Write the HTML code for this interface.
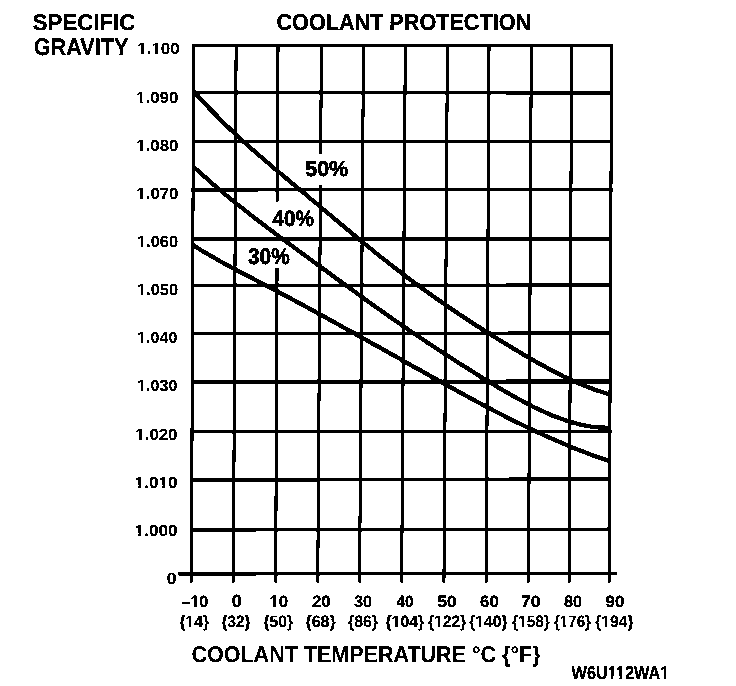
<!DOCTYPE html>
<html><head><meta charset="utf-8"><style>
html,body{margin:0;padding:0;background:#fff;}
svg{display:block;}
text{font-family:"Liberation Sans",sans-serif;font-weight:700;fill:#000;text-rendering:geometricPrecision;}
</style></head><body>
<svg width="736" height="686" viewBox="0 0 736 686">
<defs><filter id="bin" x="0" y="0" width="736" height="686" filterUnits="userSpaceOnUse" color-interpolation-filters="sRGB">
<feColorMatrix type="matrix" values="0.333 0.333 0.334 0 0  0.333 0.333 0.334 0 0  0.333 0.333 0.334 0 0  0 0 0 1 0"/>
<feComponentTransfer><feFuncR type="discrete" tableValues="0 1"/><feFuncG type="discrete" tableValues="0 1"/><feFuncB type="discrete" tableValues="0 1"/></feComponentTransfer>
</filter></defs>
<g filter="url(#bin)">
<rect width="736" height="686" fill="#fff"/>
<g stroke="#000" stroke-linecap="butt">
<line x1="193.71" y1="44.00" x2="191.36" y2="582.50" stroke-width="3.0"/>
<line x1="236.11" y1="44.00" x2="233.36" y2="582.50" stroke-width="3.0"/>
<line x1="278.01" y1="44.00" x2="277.32" y2="201.40" stroke-width="3.0"/>
<line x1="277.03" y1="267.90" x2="275.66" y2="582.50" stroke-width="3.0"/>
<line x1="321.41" y1="44.00" x2="320.66" y2="154.30" stroke-width="3.0"/>
<line x1="320.45" y1="185.00" x2="317.74" y2="582.50" stroke-width="3.0"/>
<line x1="363.51" y1="44.00" x2="359.54" y2="582.50" stroke-width="3.0"/>
<line x1="405.31" y1="44.00" x2="401.64" y2="582.50" stroke-width="3.0"/>
<line x1="447.41" y1="44.00" x2="443.95" y2="582.50" stroke-width="3.0"/>
<line x1="489.01" y1="44.00" x2="486.15" y2="582.50" stroke-width="3.0"/>
<line x1="531.31" y1="44.00" x2="528.45" y2="582.50" stroke-width="3.0"/>
<line x1="571.61" y1="44.00" x2="569.16" y2="582.50" stroke-width="3.0"/>
<line x1="611.61" y1="44.00" x2="609.16" y2="582.50" stroke-width="3.0"/>
<line x1="192.20" y1="45.5" x2="613.10" y2="45.4" stroke-width="2.9"/>
<line x1="192.00" y1="92.5" x2="612.89" y2="92.8" stroke-width="3.4"/>
<line x1="191.78" y1="141.5" x2="612.66" y2="141.4" stroke-width="2.9"/>
<line x1="191.57" y1="189.9" x2="612.45" y2="189.6" stroke-width="3.2"/>
<line x1="191.36" y1="238.7" x2="612.22" y2="238.7" stroke-width="3.6"/>
<line x1="191.16" y1="285.3" x2="612.01" y2="285.05" stroke-width="3.0"/>
<line x1="190.95" y1="333.5" x2="611.79" y2="332.9" stroke-width="3.0"/>
<line x1="190.74" y1="381.8" x2="611.57" y2="381.5" stroke-width="3.9"/>
<line x1="190.52" y1="431.6" x2="611.35" y2="431.5" stroke-width="3.2"/>
<line x1="190.31" y1="480.2" x2="611.13" y2="478.8" stroke-width="3.4"/>
<line x1="190.09" y1="529.9" x2="610.90" y2="529.2" stroke-width="3.2"/>
<line x1="178.2" y1="573.9" x2="616.8" y2="573.4" stroke-width="3.2"/>
<path d="M195.10,92.84 L198.58,96.71 L202.06,100.51 L205.54,104.25 L209.02,107.93 L212.50,111.56 L215.98,115.12 L219.46,118.63 L222.95,122.09 L226.43,125.50 L229.91,128.86 L233.39,132.17 L236.87,135.44 L240.35,138.66 L243.83,141.84 L247.31,144.98 L250.79,148.09 L254.27,151.16 L257.75,154.20 L261.23,157.21 L264.71,160.20 L268.19,163.17 L271.67,166.11 L275.16,169.04 L278.64,171.96 L282.12,174.87 L285.60,177.77 L289.08,180.67 L292.56,183.56 L296.04,186.46 L299.52,189.36 L303.00,192.27 L306.48,195.19 L309.96,198.10 L313.44,201.03 L316.92,203.95 L320.40,206.88 L323.88,209.81 L327.37,212.74 L330.85,215.66 L334.33,218.58 L337.81,221.50 L341.29,224.42 L344.77,227.33 L348.25,230.23 L351.73,233.12 L355.21,236.01 L358.69,238.88 L362.17,241.74 L365.65,244.60 L369.13,247.43 L372.61,250.26 L376.09,253.07 L379.58,255.86 L383.06,258.64 L386.54,261.39 L390.02,264.13 L393.50,266.85 L396.98,269.54 L400.46,272.22 L403.94,274.87 L407.42,277.49 L410.90,280.10 L414.38,282.68 L417.86,285.25 L421.34,287.79 L424.82,290.31 L428.31,292.81 L431.79,295.29 L435.27,297.75 L438.75,300.19 L442.23,302.62 L445.71,305.02 L449.19,307.41 L452.67,309.77 L456.15,312.12 L459.63,314.45 L463.11,316.77 L466.59,319.07 L470.07,321.35 L473.55,323.61 L477.03,325.86 L480.52,328.10 L484.00,330.32 L487.48,332.52 L490.96,334.71 L494.44,336.88 L497.92,339.04 L501.40,341.19 L504.88,343.33 L508.36,345.45 L511.84,347.55 L515.32,349.65 L518.80,351.73 L522.28,353.80 L525.76,355.84 L529.24,357.87 L532.73,359.87 L536.21,361.85 L539.69,363.80 L543.17,365.73 L546.65,367.62 L550.13,369.48 L553.61,371.31 L557.09,373.10 L560.57,374.86 L564.05,376.57 L567.53,378.24 L571.01,379.87 L574.49,381.45 L577.97,382.99 L581.45,384.47 L584.94,385.90 L588.42,387.28 L591.90,388.61 L595.38,389.87 L598.86,391.08 L602.34,392.23 L605.82,393.31 L609.30,394.32" fill="none" stroke-width="4.3" stroke-linejoin="round" stroke-linecap="round"/>
<path d="M194.40,167.55 L197.88,170.72 L201.36,173.85 L204.84,176.95 L208.32,180.01 L211.80,183.03 L215.28,186.03 L218.76,188.99 L222.25,191.92 L225.73,194.82 L229.21,197.69 L232.69,200.53 L236.17,203.35 L239.65,206.14 L243.13,208.91 L246.61,211.65 L250.09,214.38 L253.57,217.08 L257.05,219.76 L260.53,222.43 L264.01,225.08 L267.49,227.72 L270.97,230.34 L274.46,232.94 L277.94,235.54 L281.42,238.13 L284.90,240.70 L288.38,243.27 L291.86,245.83 L295.34,248.39 L298.82,250.94 L302.30,253.48 L305.78,256.03 L309.26,258.57 L312.74,261.12 L316.22,263.66 L319.70,266.21 L323.18,268.75 L326.67,271.30 L330.15,273.85 L333.63,276.39 L337.11,278.93 L340.59,281.48 L344.07,284.01 L347.55,286.55 L351.03,289.08 L354.51,291.60 L357.99,294.13 L361.47,296.64 L364.95,299.15 L368.43,301.65 L371.91,304.15 L375.39,306.63 L378.88,309.11 L382.36,311.58 L385.84,314.04 L389.32,316.49 L392.80,318.93 L396.28,321.36 L399.76,323.78 L403.24,326.18 L406.72,328.58 L410.20,330.96 L413.68,333.32 L417.16,335.67 L420.64,338.01 L424.12,340.33 L427.61,342.65 L431.09,344.95 L434.57,347.23 L438.05,349.51 L441.53,351.78 L445.01,354.04 L448.49,356.28 L451.97,358.52 L455.45,360.75 L458.93,362.97 L462.41,365.19 L465.89,367.39 L469.37,369.59 L472.85,371.79 L476.33,373.97 L479.82,376.14 L483.30,378.30 L486.78,380.45 L490.26,382.58 L493.74,384.69 L497.22,386.79 L500.70,388.86 L504.18,390.90 L507.66,392.92 L511.14,394.91 L514.62,396.88 L518.10,398.80 L521.58,400.70 L525.06,402.55 L528.54,404.37 L532.03,406.14 L535.51,407.86 L538.99,409.53 L542.47,411.15 L545.95,412.71 L549.43,414.21 L552.91,415.65 L556.39,417.02 L559.87,418.33 L563.35,419.57 L566.83,420.73 L570.31,421.81 L573.79,422.81 L577.27,423.73 L580.75,424.57 L584.24,425.31 L587.72,425.97 L591.20,426.53 L594.68,426.99 L598.16,427.35 L601.64,427.60 L605.12,427.75 L608.60,427.79" fill="none" stroke-width="4.3" stroke-linejoin="round" stroke-linecap="round"/>
<path d="M193.00,245.18 L196.49,247.36 L199.97,249.51 L203.46,251.61 L206.95,253.67 L210.43,255.70 L213.92,257.70 L217.41,259.67 L220.89,261.61 L224.38,263.52 L227.87,265.41 L231.35,267.29 L234.84,269.14 L238.33,270.99 L241.81,272.82 L245.30,274.64 L248.78,276.46 L252.27,278.28 L255.76,280.09 L259.24,281.91 L262.73,283.73 L266.22,285.56 L269.70,287.39 L273.19,289.23 L276.68,291.08 L280.16,292.92 L283.65,294.78 L287.14,296.64 L290.62,298.50 L294.11,300.37 L297.60,302.24 L301.08,304.12 L304.57,306.01 L308.06,307.90 L311.54,309.79 L315.03,311.69 L318.52,313.59 L322.00,315.50 L325.49,317.41 L328.98,319.32 L332.46,321.24 L335.95,323.16 L339.44,325.09 L342.92,327.02 L346.41,328.95 L349.89,330.89 L353.38,332.82 L356.87,334.76 L360.35,336.71 L363.84,338.65 L367.33,340.60 L370.81,342.55 L374.30,344.50 L377.79,346.46 L381.27,348.41 L384.76,350.37 L388.25,352.32 L391.73,354.28 L395.22,356.24 L398.71,358.20 L402.19,360.17 L405.68,362.13 L409.17,364.09 L412.65,366.05 L416.14,368.01 L419.63,369.97 L423.11,371.93 L426.60,373.89 L430.09,375.85 L433.57,377.80 L437.06,379.75 L440.55,381.69 L444.03,383.63 L447.52,385.57 L451.01,387.50 L454.49,389.42 L457.98,391.34 L461.46,393.25 L464.95,395.15 L468.44,397.05 L471.92,398.93 L475.41,400.81 L478.90,402.68 L482.38,404.53 L485.87,406.38 L489.36,408.22 L492.84,410.04 L496.33,411.86 L499.82,413.66 L503.30,415.44 L506.79,417.22 L510.28,418.97 L513.76,420.72 L517.25,422.45 L520.74,424.16 L524.22,425.86 L527.71,427.54 L531.20,429.21 L534.68,430.85 L538.17,432.48 L541.66,434.09 L545.14,435.68 L548.63,437.25 L552.12,438.80 L555.60,440.33 L559.09,441.84 L562.57,443.33 L566.06,444.79 L569.55,446.24 L573.03,447.66 L576.52,449.05 L580.01,450.42 L583.49,451.77 L586.98,453.09 L590.47,454.39 L593.95,455.66 L597.44,456.90 L600.93,458.12 L604.41,459.30 L607.90,460.46" fill="none" stroke-width="4.3" stroke-linejoin="round" stroke-linecap="round"/>
</g>
<g>
<text x="32.80" y="29.65" font-size="22.675" textLength="102.47" lengthAdjust="spacingAndGlyphs" stroke="#000" stroke-width="0.3">SPECIFIC</text>
<text x="33.68" y="54.55" font-size="23.838" textLength="94.92" lengthAdjust="spacingAndGlyphs" stroke="#000" stroke-width="0.3">GRAVITY</text>
<text x="276.46" y="29.85" font-size="22.966" textLength="254.65" lengthAdjust="spacingAndGlyphs" stroke="#000" stroke-width="0.3">COOLANT PROTECTION</text>
<text x="137.22" y="54.31" font-size="16.017" textLength="42.51" lengthAdjust="spacingAndGlyphs" stroke="#000" stroke-width="0.16">1.100</text>
<text x="136.12" y="102.61" font-size="16.017" textLength="42.17" lengthAdjust="spacingAndGlyphs" stroke="#000" stroke-width="0.16">1.090</text>
<text x="136.34" y="150.91" font-size="16.017" textLength="42.15" lengthAdjust="spacingAndGlyphs" stroke="#000" stroke-width="0.16">1.080</text>
<text x="136.34" y="199.11" font-size="16.017" textLength="42.16" lengthAdjust="spacingAndGlyphs" stroke="#000" stroke-width="0.16">1.070</text>
<text x="136.97" y="247.11" font-size="16.017" textLength="41.07" lengthAdjust="spacingAndGlyphs" stroke="#000" stroke-width="0.16">1.060</text>
<text x="136.97" y="294.91" font-size="16.017" textLength="41.08" lengthAdjust="spacingAndGlyphs" stroke="#000" stroke-width="0.16">1.050</text>
<text x="136.99" y="343.21" font-size="16.017" textLength="40.56" lengthAdjust="spacingAndGlyphs" stroke="#000" stroke-width="0.16">1.040</text>
<text x="136.99" y="391.31" font-size="16.017" textLength="40.56" lengthAdjust="spacingAndGlyphs" stroke="#000" stroke-width="0.16">1.030</text>
<text x="135.34" y="439.91" font-size="16.017" textLength="42.16" lengthAdjust="spacingAndGlyphs" stroke="#000" stroke-width="0.16">1.020</text>
<text x="134.52" y="487.56" font-size="16.017" textLength="43.15" lengthAdjust="spacingAndGlyphs" stroke="#000" stroke-width="0.16">1.010</text>
<text x="134.52" y="535.56" font-size="16.017" textLength="43.16" lengthAdjust="spacingAndGlyphs" stroke="#000" stroke-width="0.16">1.000</text>
<text x="166.76" y="583.51" font-size="16.511" textLength="9.78" lengthAdjust="spacingAndGlyphs" stroke="#000" stroke-width="0.16">0</text>
<text x="181.49" y="606.99" font-size="16.384" textLength="26.84" lengthAdjust="spacingAndGlyphs" stroke="#000" stroke-width="0.3">–10</text>
<text x="231.87" y="607.18" font-size="17.796" textLength="10.06" lengthAdjust="spacingAndGlyphs" stroke="#000" stroke-width="0.3">0</text>
<text x="269.42" y="606.99" font-size="16.384" textLength="18.70" lengthAdjust="spacingAndGlyphs" stroke="#000" stroke-width="0.3">10</text>
<text x="312.00" y="606.99" font-size="16.384" textLength="18.73" lengthAdjust="spacingAndGlyphs" stroke="#000" stroke-width="0.3">20</text>
<text x="354.00" y="606.99" font-size="16.384" textLength="17.99" lengthAdjust="spacingAndGlyphs" stroke="#000" stroke-width="0.3">30</text>
<text x="396.46" y="606.99" font-size="16.384" textLength="17.04" lengthAdjust="spacingAndGlyphs" stroke="#000" stroke-width="0.3">40</text>
<text x="437.44" y="606.99" font-size="16.384" textLength="19.05" lengthAdjust="spacingAndGlyphs" stroke="#000" stroke-width="0.3">50</text>
<text x="480.00" y="606.99" font-size="16.384" textLength="18.76" lengthAdjust="spacingAndGlyphs" stroke="#000" stroke-width="0.3">60</text>
<text x="520.95" y="606.99" font-size="16.384" textLength="19.86" lengthAdjust="spacingAndGlyphs" stroke="#000" stroke-width="0.3">70</text>
<text x="564.00" y="606.99" font-size="16.384" textLength="17.99" lengthAdjust="spacingAndGlyphs" stroke="#000" stroke-width="0.3">80</text>
<text x="605.59" y="606.99" font-size="16.384" textLength="18.76" lengthAdjust="spacingAndGlyphs" stroke="#000" stroke-width="0.3">90</text>
<text x="179.39" y="627.24" font-size="16.525" textLength="29.76" lengthAdjust="spacingAndGlyphs" stroke="#000" stroke-width="0.2">{14}</text>
<text x="221.50" y="627.24" font-size="16.525" textLength="29.02" lengthAdjust="spacingAndGlyphs" stroke="#000" stroke-width="0.2">{32}</text>
<text x="263.39" y="627.24" font-size="16.525" textLength="29.76" lengthAdjust="spacingAndGlyphs" stroke="#000" stroke-width="0.2">{50}</text>
<text x="305.51" y="627.24" font-size="16.525" textLength="30.23" lengthAdjust="spacingAndGlyphs" stroke="#000" stroke-width="0.2">{68}</text>
<text x="348.00" y="627.24" font-size="16.525" textLength="29.99" lengthAdjust="spacingAndGlyphs" stroke="#000" stroke-width="0.2">{86}</text>
<text x="385.40" y="627.24" font-size="16.525" textLength="38.91" lengthAdjust="spacingAndGlyphs" stroke="#000" stroke-width="0.2">{104}</text>
<text x="428.02" y="627.24" font-size="16.525" textLength="38.29" lengthAdjust="spacingAndGlyphs" stroke="#000" stroke-width="0.2">{122}</text>
<text x="469.20" y="627.24" font-size="16.525" textLength="38.46" lengthAdjust="spacingAndGlyphs" stroke="#000" stroke-width="0.2">{140}</text>
<text x="512.00" y="627.24" font-size="16.525" textLength="37.90" lengthAdjust="spacingAndGlyphs" stroke="#000" stroke-width="0.2">{158}</text>
<text x="554.00" y="627.24" font-size="16.525" textLength="36.90" lengthAdjust="spacingAndGlyphs" stroke="#000" stroke-width="0.2">{176}</text>
<text x="595.25" y="627.24" font-size="16.525" textLength="38.29" lengthAdjust="spacingAndGlyphs" stroke="#000" stroke-width="0.2">{194}</text>
<text x="191.46" y="661.60" font-size="22.747" textLength="349.14" lengthAdjust="spacingAndGlyphs" stroke="#000" stroke-width="0.1">COOLANT TEMPERATURE °C {°F}</text>
<text x="571.58" y="678.60" font-size="18.242" textLength="97.59" lengthAdjust="spacingAndGlyphs" stroke="#000" stroke-width="0.3">W6U112WA1</text>
<text x="305.19" y="176.19" font-size="21.498" textLength="43.03" lengthAdjust="spacingAndGlyphs" stroke="#000" stroke-width="0.6">50%</text>
<text x="272.39" y="225.58" font-size="22.214" textLength="41.46" lengthAdjust="spacingAndGlyphs" stroke="#000" stroke-width="0.6">40%</text>
<text x="248.00" y="263.75" font-size="22.552" textLength="41.64" lengthAdjust="spacingAndGlyphs" stroke="#000" stroke-width="0.6">30%</text>
</g><g fill="#fff">
<rect x="137.46" y="52.25" width="3.59" height="3.56"/>
<rect x="143.66" y="52.25" width="3.37" height="3.56"/>
<rect x="151.63" y="52.25" width="3.59" height="3.56"/>
<rect x="157.82" y="52.25" width="3.37" height="3.56"/>
<rect x="136.36" y="100.55" width="3.56" height="3.56"/>
<rect x="142.51" y="100.55" width="3.35" height="3.56"/>
<rect x="136.58" y="148.85" width="3.56" height="3.56"/>
<rect x="142.72" y="148.85" width="3.34" height="3.56"/>
<rect x="136.58" y="197.05" width="3.56" height="3.56"/>
<rect x="142.72" y="197.05" width="3.35" height="3.56"/>
<rect x="137.20" y="245.05" width="3.47" height="3.56"/>
<rect x="143.19" y="245.05" width="3.26" height="3.56"/>
<rect x="137.20" y="292.85" width="3.47" height="3.56"/>
<rect x="143.19" y="292.85" width="3.26" height="3.56"/>
<rect x="137.22" y="341.15" width="3.42" height="3.56"/>
<rect x="143.13" y="341.15" width="3.22" height="3.56"/>
<rect x="137.22" y="389.25" width="3.42" height="3.56"/>
<rect x="143.13" y="389.25" width="3.22" height="3.56"/>
<rect x="135.58" y="437.85" width="3.56" height="3.56"/>
<rect x="141.72" y="437.85" width="3.35" height="3.56"/>
<rect x="134.76" y="485.50" width="3.64" height="3.56"/>
<rect x="141.05" y="485.50" width="3.42" height="3.56"/>
<rect x="158.72" y="485.50" width="3.64" height="3.56"/>
<rect x="165.01" y="485.50" width="3.42" height="3.56"/>
<rect x="134.76" y="533.50" width="3.64" height="3.56"/>
<rect x="141.06" y="533.50" width="3.42" height="3.56"/>
<rect x="190.65" y="604.82" width="3.34" height="3.67"/>
<rect x="196.59" y="604.82" width="3.13" height="3.67"/>
<rect x="269.66" y="604.82" width="3.48" height="3.67"/>
<rect x="275.86" y="604.82" width="3.27" height="3.67"/>
<rect x="185.73" y="625.10" width="3.31" height="3.64"/>
<rect x="191.50" y="625.10" width="3.11" height="3.64"/>
<rect x="391.81" y="625.10" width="3.35" height="3.64"/>
<rect x="397.63" y="625.10" width="3.15" height="3.64"/>
<rect x="434.33" y="625.10" width="3.29" height="3.64"/>
<rect x="440.05" y="625.10" width="3.10" height="3.64"/>
<rect x="475.53" y="625.10" width="3.31" height="3.64"/>
<rect x="481.29" y="625.10" width="3.11" height="3.64"/>
<rect x="518.24" y="625.10" width="3.26" height="3.64"/>
<rect x="523.91" y="625.10" width="3.06" height="3.64"/>
<rect x="560.08" y="625.10" width="3.17" height="3.64"/>
<rect x="565.60" y="625.10" width="2.98" height="3.64"/>
<rect x="601.56" y="625.10" width="3.29" height="3.64"/>
<rect x="607.28" y="625.10" width="3.10" height="3.64"/>
<rect x="607.91" y="676.24" width="3.05" height="3.86"/>
<rect x="613.30" y="676.24" width="2.87" height="3.86"/>
<rect x="616.07" y="676.24" width="3.39" height="3.86"/>
<rect x="622.05" y="676.24" width="3.18" height="3.86"/>
<rect x="660.35" y="676.24" width="3.39" height="3.86"/>
<rect x="666.33" y="676.24" width="3.18" height="3.86"/>
</g>
</g>
</svg>
</body></html>
